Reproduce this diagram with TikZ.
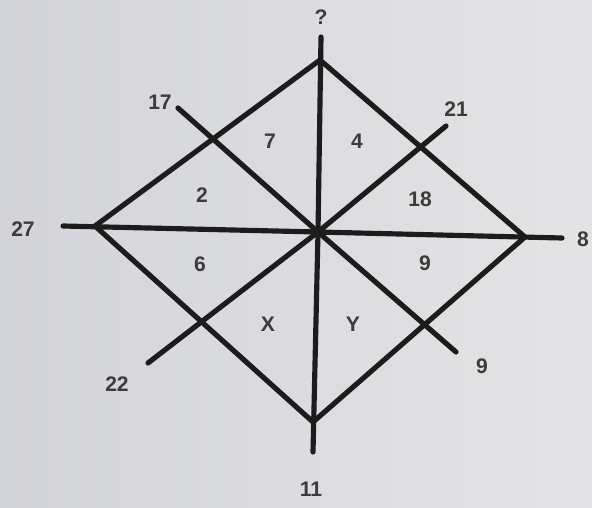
\documentclass[tikz,border=0pt]{standalone}
\usepackage{fontspec}
\setmainfont{Liberation Sans}
\usetikzlibrary{calc}
\definecolor{cbgl}{HTML}{D3D4D9}
\definecolor{cbgr}{HTML}{E4E4E6}
\definecolor{cline}{HTML}{1C1C1C}
\definecolor{ctext}{HTML}{3C3C3C}
\tikzset{
  every picture/.style={line width=4.4pt},
  edge/.style={draw=cline, line cap=round},
  num/.style={text=ctext, font=\fontsize{18}{21}\selectfont\bfseries, inner sep=0pt},
  cell/.style={num},
  letter/.style={num},
}

\begin{document}
\begin{tikzpicture}[x=0.03cm, y=-0.03cm]
  \shade[left color=cbgl, right color=cbgr] (0,0) rectangle (592,508);
  \useasboundingbox (0,0) rectangle (592,508);
  % corners of the square
  \coordinate (top) at (320,60);
  \coordinate (left) at (95,226);
  \coordinate (right) at (525,237);
  \coordinate (bottom) at (313,422);
  \coordinate (ctr) at (318,232);
  % free ends of the lines
  \coordinate (qend) at (321,37);
  \coordinate (elevenend) at (313,452);
  \coordinate (twentysevenend) at (63,226);
  \coordinate (eightend) at (562,238);
  \coordinate (seventeenend) at (178,108);
  \coordinate (nineend) at (456,352);
  \coordinate (twentyoneend) at (446,126);
  \coordinate (twentytwoend) at (148,363);

  \draw[edge] (top) -- (right) -- (bottom) -- (left) -- cycle;
  \draw[edge] (qend) -- (ctr) -- (elevenend);
  \draw[edge] (twentysevenend) -- (ctr) -- (eightend);
  \draw[edge] (seventeenend) -- (ctr) -- (nineend);
  \draw[edge] (twentyoneend) -- (ctr) -- (twentytwoend);

  % outer numbers
  \node[num] (q) at (321,17) {?};
  \node[num] (n17) at (160,102) {17};
  \node[num] (n21) at (456,109) {21};
  \node[num] (n27) at (23,229) {27};
  \node[num] (n8) at (583,239) {8};
  \node[num] (n22) at (117,384) {22};
  \node[num] (n9) at (482,366) {9};
  \node[num] (n11) at (311,489) {11};

  % numbers in the cells
  \node[cell] (c7) at (270,141) {7};
  \node[cell] (c4) at (357,141) {4};
  \node[cell] (c2) at (202,195) {2};
  \node[cell] (c18) at (420,199) {18};
  \node[cell] (c6) at (200,264) {6};
  \node[cell] (c9) at (425,263) {9};
  \node[letter] (cx) at (268,324) {X};
  \node[letter] (cy) at (353,324) {Y};
\end{tikzpicture}
\end{document}
